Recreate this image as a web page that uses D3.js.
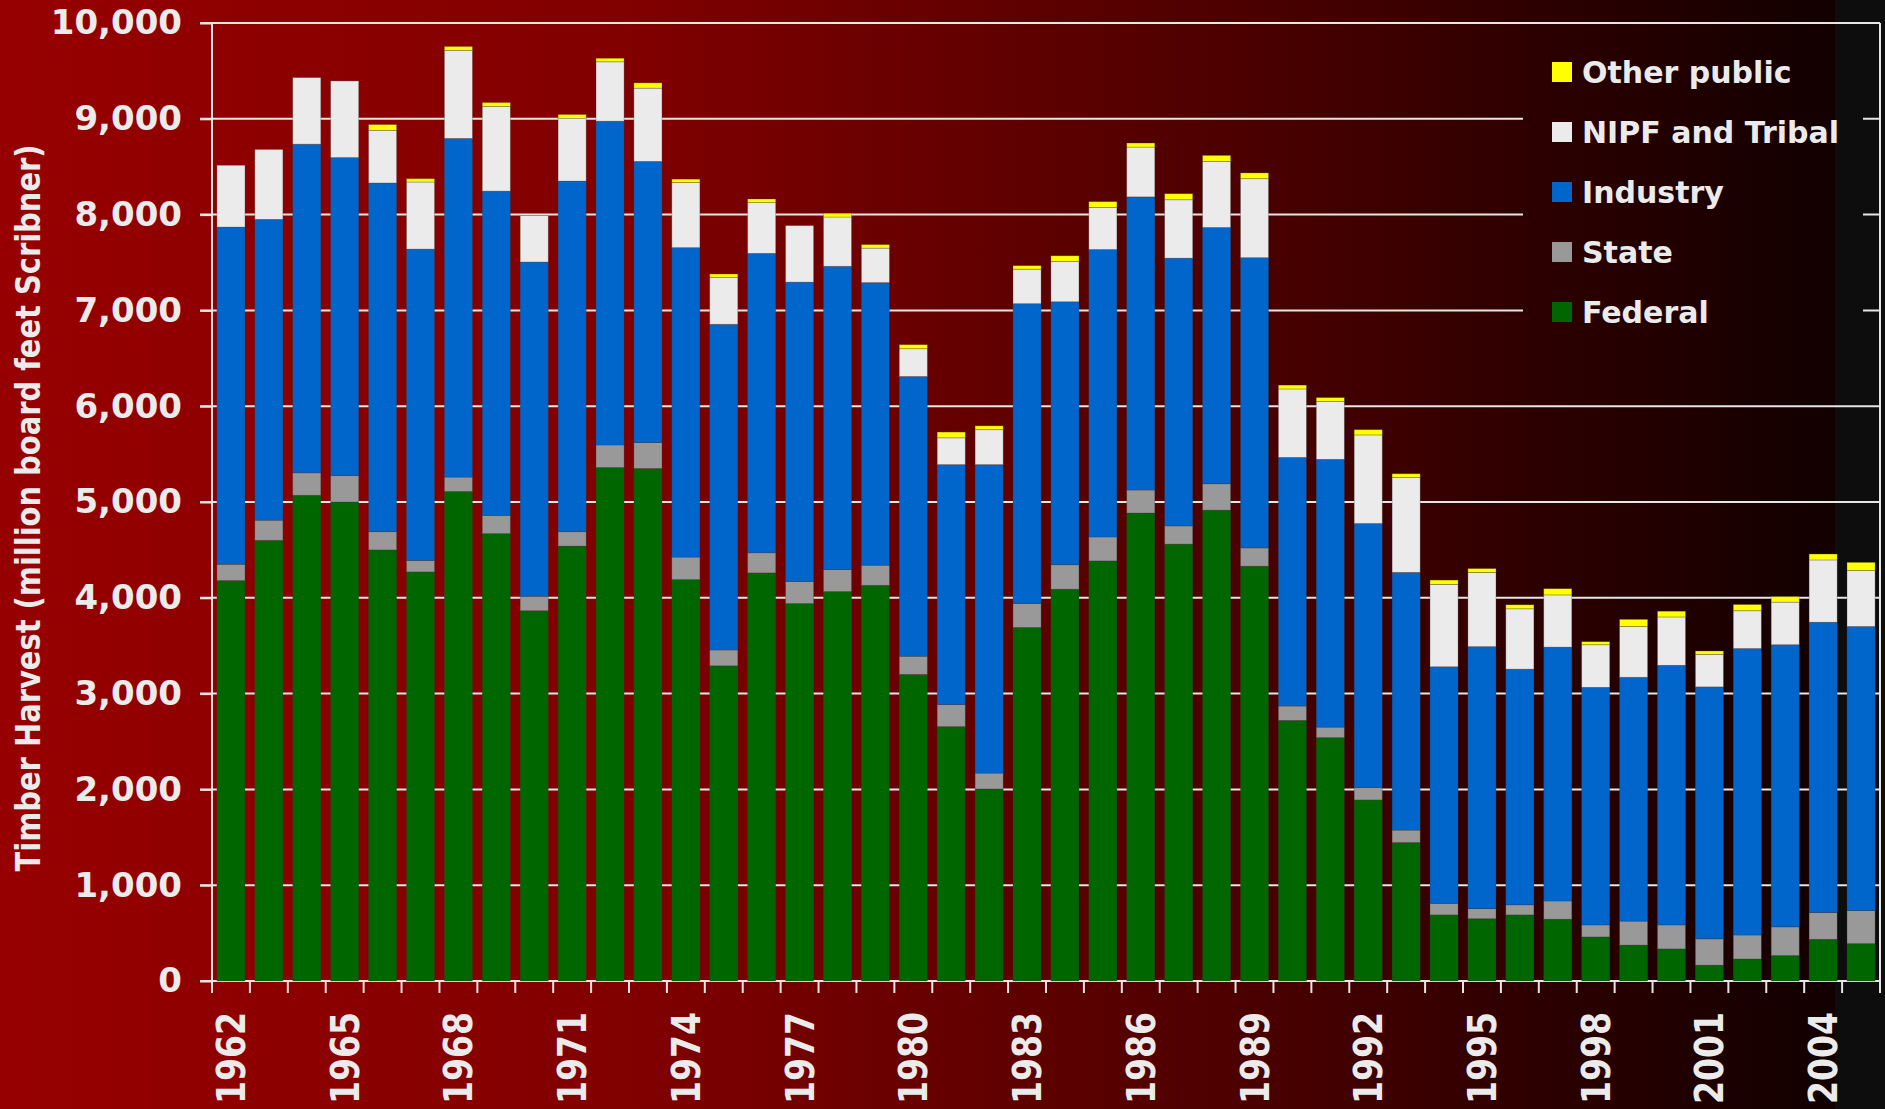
<!DOCTYPE html>
<html>
<head>
<meta charset="utf-8">
<script src="https://cdn.jsdelivr.net/npm/d3@7"></script>
<style>
  body { margin: 0; background: #000; }
  svg { display: block; }
  text { font-family: "DejaVu Sans", Verdana, sans-serif; font-weight: bold; fill: #ebebeb; }
</style>
</head>
<body>
<svg id="chart"></svg>
<script>
// years on the x axis (one bar each)
const years = d3.range(1962, 2006);

// timber harvest by owner, million board feet Scribner
const federal = [4180, 4600, 5070, 5000, 4500, 4270, 5110, 4670, 3865, 4540, 5360, 5350, 4190, 3290, 4260,
                 3940, 4065, 4130, 3200, 2655, 2005, 3690, 4090, 4385, 4885, 4560, 4915, 4330, 2720, 2540,
                 1890, 1445, 690, 650, 690, 645, 460, 375, 335, 165, 230, 265, 435, 390];
const state = [170, 210, 235, 275, 190, 120, 150, 190, 150, 150, 235, 270, 235, 165, 210,
               230, 230, 210, 190, 230, 165, 250, 255, 250, 240, 190, 275, 190, 150, 110,
               130, 130, 120, 105, 105, 190, 125, 250, 250, 275, 250, 300, 280, 345];
const industry = [3520, 3140, 3430, 3320, 3640, 3250, 3535, 3385, 3490, 3660, 3380, 2935, 3230, 3400, 3125,
                  3125, 3165, 2950, 2920, 2505, 3220, 3130, 2745, 3000, 3060, 2795, 2675, 3030, 2595, 2795,
                  2755, 2690, 2470, 2735, 2460, 2650, 2480, 2545, 2710, 2630, 2990, 2945, 3030, 2965];
const nipfTribal = [645, 730, 695, 800, 550, 700, 920, 885, 485, 655, 620, 765, 680, 490, 530,
                    590, 515, 360, 290, 280, 365, 360, 420, 440, 520, 610, 690, 825, 715, 605,
                    925, 990, 860, 775, 630, 545, 445, 530, 505, 340, 395, 445, 650, 585];
const otherPublic = [0, 0, 0, 0, 60, 35, 40, 40, 0, 40, 37, 55, 35, 35, 38,
                     0, 38, 37, 42, 60, 40, 37, 60, 60, 42, 63, 63, 60, 40, 40,
                     55, 40, 45, 40, 42, 65, 32, 75, 60, 35, 65, 57, 62, 85];

const seriesKeys = ["federal", "state", "industry", "nipf", "other"];
const seriesNames = ["Federal", "State", "Industry", "NIPF and Tribal", "Other public"];
const seriesColors = ["#006600", "#999999", "#0066cc", "#ebebeb", "#ffff00"];
const yTicks = d3.range(0, 10001, 1000);

const width = 1885;
const height = 1109;
const plotLeft = 212, plotRight = 1880, plotTop = 23, plotBottom = 981;

const rows = years.map((yr, i) => ({
    year: yr,
    federal: federal[i],
    state: state[i],
    industry: industry[i],
    nipf: nipfTribal[i],
    other: otherPublic[i]
}));

const svg = d3.select("#chart")
    .attr("width", width)
    .attr("height", height);

// background: red to black gradient, dark strip on the far right
const defs = svg.append("defs");
const grad = defs.append("linearGradient")
    .attr("id", "bg")
    .attr("gradientUnits", "userSpaceOnUse")
    .attr("x1", 0).attr("x2", 1835).attr("y1", 0).attr("y2", 0);
grad.selectAll("stop")
    .data([[0, "#970000"], [0.35, "#800000"], [0.7, "#480000"], [0.82, "#300000"], [1, "#120000"]])
    .enter().append("stop")
    .attr("offset", d => d[0])
    .attr("stop-color", d => d[1]);

svg.append("rect").attr("width", width).attr("height", height).attr("fill", "url(#bg)");
svg.append("rect").attr("x", 1835).attr("width", width - 1835).attr("height", height).attr("fill", "#0d0d0d");

const x = d3.scaleBand()
    .domain(years)
    .range([plotLeft, plotRight])
    .paddingInner(0.26)
    .paddingOuter(0.13);

const y = d3.scaleLinear()
    .domain([0, 10000])
    .range([plotBottom, plotTop]);

// gridlines
svg.append("g")
    .selectAll("line")
    .data(yTicks)
    .enter().append("line")
    .attr("x1", plotLeft - 12)
    .attr("x2", plotRight)
    .attr("y1", d => y(d))
    .attr("y2", d => y(d))
    .attr("stroke", "#e6e6e6")
    .attr("stroke-width", 2);

// legend box hides the gridlines behind it
const legendBox = svg.append("g");
legendBox.append("rect")
    .attr("x", 1523).attr("y", plotTop + 2)
    .attr("width", 1835 - 1523).attr("height", 330)
    .attr("fill", "url(#bg)");
legendBox.append("rect")
    .attr("x", 1835).attr("y", plotTop + 2)
    .attr("width", 1863 - 1835).attr("height", 330)
    .attr("fill", "#0d0d0d");

// stacked bars
const stacked = d3.stack().keys(seriesKeys)(rows);

svg.append("g")
    .selectAll("g")
    .data(stacked)
    .enter().append("g")
    .attr("fill", (d, i) => seriesColors[i])
    .selectAll("rect")
    .data(d => d)
    .enter().append("rect")
    .attr("x", d => x(d.data.year))
    .attr("width", x.bandwidth())
    .attr("y", d => y(d[1]))
    .attr("height", d => y(d[0]) - y(d[1]))
    .attr("stroke", "rgba(60,60,60,0.35)")
    .attr("stroke-width", 0.8);

// y axis
const yAxis = d3.axisLeft(y)
    .tickValues(yTicks)
    .tickFormat(d3.format(","))
    .tickSize(12)
    .tickPadding(18);

const yAxisG = svg.append("g")
    .attr("transform", `translate(${plotLeft}, 0)`)
    .call(yAxis);
yAxisG.select(".domain").remove();
yAxisG.selectAll("line").attr("stroke", "#e6e6e6").attr("stroke-width", 2);
yAxisG.selectAll("text")
    .attr("fill", "#ebebeb")
    .style("font-size", "34px")
    .style("font-family", "'DejaVu Sans', Verdana, sans-serif")
    .style("font-weight", "bold");

// frame lines left / right
svg.append("line")
    .attr("x1", plotLeft).attr("x2", plotLeft)
    .attr("y1", plotTop).attr("y2", plotBottom + 12)
    .attr("stroke", "#e6e6e6").attr("stroke-width", 2);
svg.append("line")
    .attr("x1", plotRight).attr("x2", plotRight)
    .attr("y1", plotTop).attr("y2", plotBottom + 12)
    .attr("stroke", "#e6e6e6").attr("stroke-width", 2);

// x ticks at the band boundaries
const step = x.step();
const boundaries = years.map(yr => x(yr) - step * 0.13).concat([plotRight]);
svg.append("g")
    .selectAll("line")
    .data(boundaries)
    .enter().append("line")
    .attr("x1", d => d).attr("x2", d => d)
    .attr("y1", plotBottom).attr("y2", plotBottom + 12)
    .attr("stroke", "#e6e6e6").attr("stroke-width", 2);

// x labels every third year, rotated
svg.append("g")
    .selectAll("text")
    .data(years.filter((yr, i) => i % 3 === 0))
    .enter().append("text")
    .attr("transform", d => `translate(${x(d) + x.bandwidth() / 2}, 1012) rotate(-90)`)
    .attr("text-anchor", "end")
    .attr("dy", "0.36em")
    .attr("textLength", 92)
    .attr("lengthAdjust", "spacingAndGlyphs")
    .style("font-size", "39px")
    .text(d => d);

// y axis title
svg.append("text")
    .attr("transform", "translate(40, 508) rotate(-90)")
    .attr("text-anchor", "middle")
    .attr("textLength", 727)
    .attr("lengthAdjust", "spacingAndGlyphs")
    .style("font-size", "33px")
    .text("Timber Harvest (million board feet Scribner)");

// legend, top item is "Other public"
const legend = svg.append("g");
const legendItems = seriesNames.map((name, i) => ({ name: name, color: seriesColors[i] })).reverse();
const item = legend.selectAll("g")
    .data(legendItems)
    .enter().append("g")
    .attr("transform", (d, i) => `translate(1552, ${72 + i * 60})`);
item.append("rect")
    .attr("y", -10)
    .attr("width", 20)
    .attr("height", 20)
    .attr("fill", d => d.color);
item.append("text")
    .attr("x", 30)
    .attr("y", 11)
    .style("font-size", "30px")
    .text(d => d.name);
</script>
</body>
</html>
